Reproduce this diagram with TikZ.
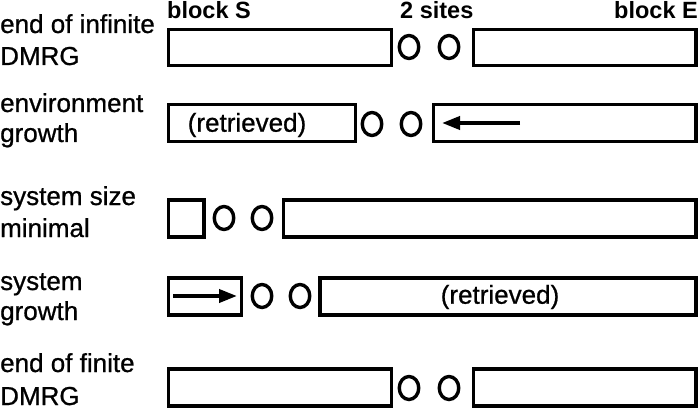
\documentclass[tikz,border=0pt]{standalone}
\usepackage{fontspec}
\setmainfont{Liberation Sans}
\usetikzlibrary{arrows.meta,shapes.geometric}
\begin{document}
\begin{tikzpicture}[x=1pt,y=-1pt,
  blk/.style={draw,line width=3.8pt,inner sep=0pt,outer sep=0pt},
  site/.style={draw,ellipse,line width=3.4pt,minimum width=19.5pt,minimum height=23pt,inner sep=0pt,outer sep=0pt},
  lab/.style={anchor=base west,inner sep=0pt,font=\addfontfeature{FakeBold=0.8}\fontsize{26}{30}\selectfont},
  head/.style={inner sep=0pt,font=\bfseries\fontsize{23.5}{26}\selectfont},
  txt/.style={inner sep=0pt,font=\addfontfeature{FakeBold=0.8}\fontsize{26}{30}\selectfont},
  arr/.style={line width=3.8pt,-{Triangle[length=18pt,width=13pt]}}]
\useasboundingbox (0,0) rectangle (700,414);
% headers
\node[head,anchor=base west] (hS) at (167,19) {block S};
\node[head,anchor=base west] (h2) at (400,19) {2 sites};
\node[head,anchor=base east] (hE) at (698,19) {block E};
% left labels
\node[lab] (l1a) at (0,33) {end of infinite};
\node[lab] (l1b) at (0,65) {DMRG};
\node[lab] (l2a) at (0,112) {environment};
\node[lab] (l2b) at (0,142) {growth};
\node[lab] (l3a) at (0,205) {system size};
\node[lab] (l3b) at (0,237) {minimal};
\node[lab] (l4a) at (0,290) {system};
\node[lab] (l4b) at (0,320) {growth};
\node[lab] (l5a) at (0,372) {end of finite};
\node[lab] (l5b) at (0,405) {DMRG};
% row 1
\node[blk,minimum width=223pt,minimum height=36pt] (s1) at (280,47.5) {};
\node[site] (c1a) at (409,47) {};
\node[site] (c1b) at (449,47) {};
\node[blk,minimum width=222.5pt,minimum height=36pt] (e1) at (584.75,47.5) {};
% row 2
\node[blk,minimum width=187pt,minimum height=37pt] (s2) at (262,123) {};
\node[txt] (t2) at (247,125) {(retrieved)};
\node[site] (c2a) at (372,124) {};
\node[site] (c2b) at (411,124) {};
\node[blk,minimum width=262.5pt,minimum height=37pt] (e2) at (564.75,123) {};
\coordinate (a2s) at (520,123);
\coordinate (a2e) at (442,123);
\draw[arr] (a2s) -- (a2e);
% row 3
\node[blk,minimum width=35.5pt,minimum height=37pt] (s3) at (186.25,218.5) {};
\node[site] (c3a) at (224,218) {};
\node[site] (c3b) at (262,218) {};
\node[blk,minimum width=412.5pt,minimum height=37pt] (e3) at (489.75,218.5) {};
% row 4
\node[blk,minimum width=73pt,minimum height=37pt] (s4) at (205,296.5) {};
\coordinate (a4s) at (173,296);
\coordinate (a4e) at (237,296);
\draw[arr] (a4s) -- (a4e);
\node[site] (c4a) at (262,296) {};
\node[site] (c4b) at (300,296) {};
\node[blk,minimum width=376pt,minimum height=37pt] (e4) at (508,296.5) {};
\node[txt] (t4) at (500,297) {(retrieved)};
% row 5
\node[blk,minimum width=223pt,minimum height=37pt] (s5) at (280,387.5) {};
\node[site] (c5a) at (409,388) {};
\node[site] (c5b) at (449,388) {};
\node[blk,minimum width=222.5pt,minimum height=37pt] (e5) at (584.75,387.5) {};
\end{tikzpicture}
\end{document}
